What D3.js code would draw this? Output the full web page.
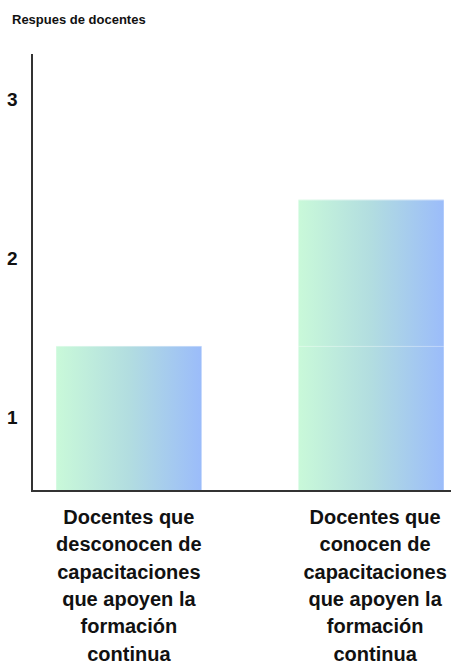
<!DOCTYPE html>
<html>
<head>
<meta charset="utf-8">
<script src="https://cdn.jsdelivr.net/npm/d3@7"></script>
<style>
  html, body { margin: 0; padding: 0; background: #fff; }
  svg { display: block; font-family: "Liberation Sans", Arial, sans-serif; }
</style>
</head>
<body>
<svg id="chart" width="451" height="664"></svg>
<script>
// Respuestas de docentes sobre capacitaciones
const categories = [
  "Docentes que desconocen de capacitaciones que apoyen la formación continua",
  "Docentes que conocen de capacitaciones que apoyen la formación continua"
];
const labelLines = [
  ["Docentes que", "desconocen de", "capacitaciones", "que apoyen la", "formación", "continua"],
  ["Docentes que", "conocen de", "capacitaciones", "que apoyen la", "formación", "continua"]
];
// two stacked segments per bar
const baseValues = [1.45, 1.45];
const extraValues = [0, 0.92];
const yTicks = [1, 2, 3];
const title = "Respues de docentes";

const svg = d3.select("#chart");
const axisLeft = 32, baseline = 491, axisTop = 54;

const x = d3.scaleBand().domain(categories).range([axisLeft, 468])
  .paddingInner(0.4).paddingOuter(0.1);
const y = d3.scaleLinear().domain([0.538, 3.286]).range([baseline, axisTop]);

const defs = svg.append("defs");
const grad = defs.append("linearGradient").attr("id", "barGrad")
  .attr("x1", "0%").attr("x2", "100%").attr("y1", "0%").attr("y2", "0%");
grad.append("stop").attr("offset", "0%").attr("stop-color", "#c9f9d9");
grad.append("stop").attr("offset", "50%").attr("stop-color", "#b2dde0");
grad.append("stop").attr("offset", "100%").attr("stop-color", "#9bbcfa");

const stackData = categories.map((c, i) => ({ cat: c, base: baseValues[i], extra: extraValues[i] }));
const series = d3.stack().keys(["base", "extra"])(stackData);

const yMin = y.domain()[0];
series.forEach(s => {
  s.forEach(d => {
    const v0 = d[0] === 0 ? yMin : d[0];
    const v1 = d[1] === 0 ? yMin : d[1];
    if (v1 <= v0) return;
    const g = svg.append("g");
    g.append("rect")
      .attr("x", x(d.data.cat))
      .attr("width", x.bandwidth())
      .attr("y", y(v1))
      .attr("height", y(v0) - y(v1))
      .attr("fill", "url(#barGrad)");
    // light top edge of each segment
    g.append("line")
      .attr("x1", x(d.data.cat)).attr("x2", x(d.data.cat) + x.bandwidth())
      .attr("y1", y(v1) + 0.5).attr("y2", y(v1) + 0.5)
      .attr("stroke", "#ffffff").attr("stroke-opacity", 0.35).attr("stroke-width", 1);
  });
});

// axes
svg.append("line")
  .attr("x1", axisLeft).attr("x2", axisLeft)
  .attr("y1", axisTop).attr("y2", baseline)
  .attr("stroke", "#333").attr("stroke-width", 2);
svg.append("line")
  .attr("x1", axisLeft - 1).attr("x2", 451)
  .attr("y1", baseline).attr("y2", baseline)
  .attr("stroke", "#333").attr("stroke-width", 2);

// y tick labels
svg.selectAll("text.ytick").data(yTicks).join("text")
  .attr("class", "ytick")
  .attr("x", 7)
  .attr("y", d => y(d))
  .attr("dy", "0.36em")
  .attr("font-size", 19)
  .attr("font-weight", "bold")
  .attr("fill", "#111")
  .text(d => d);

// title
svg.append("text")
  .attr("x", 12).attr("y", 24)
  .attr("font-size", 13).attr("font-weight", "bold").attr("fill", "#111")
  .text(title);

// category labels
categories.forEach((c, i) => {
  const cx = x(c) + x.bandwidth() / 2 + (i === 1 ? 4 : 0);
  const t = svg.append("text")
    .attr("text-anchor", "middle")
    .attr("font-size", 20).attr("font-weight", "bold").attr("fill", "#111");
  labelLines[i].forEach((ln, j) => {
    t.append("tspan").attr("x", cx).attr("y", 524 + j * 27.3).text(ln);
  });
});
</script>
</body>
</html>
